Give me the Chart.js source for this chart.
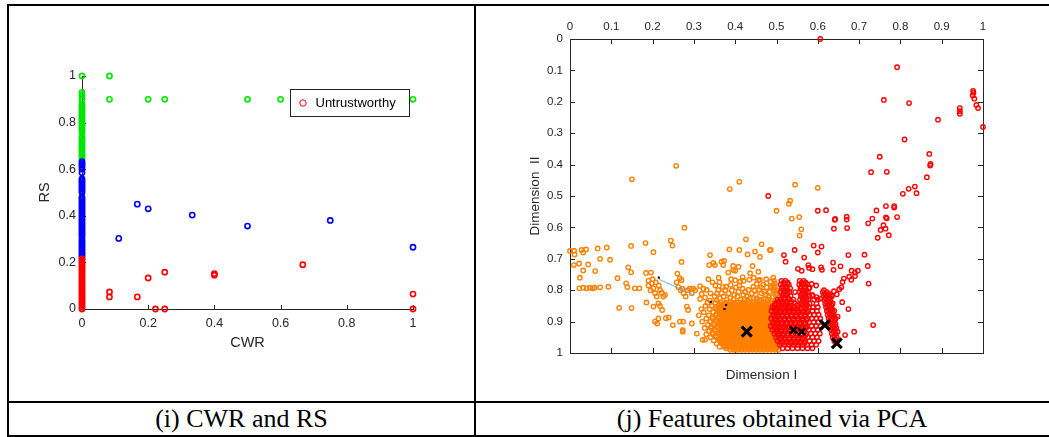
<!DOCTYPE html>
<html>
<head>
<meta charset="utf-8">
<script src="https://cdn.jsdelivr.net/npm/chart.js@4.4.1/dist/chart.umd.min.js"></script>
<style>
  body { margin: 0; background: #fff; }
  #sheet { position: relative; width: 1049px; height: 437px; overflow: hidden; background: #fff; }
  .rule { position: absolute; background: #000; }
  .cell { position: absolute; }
  .cell canvas { display: block; }
  .caption { position: absolute; top: 403px; height: 32px; line-height: 32px; text-align: center;
             font-family: 'Liberation Serif', 'Times New Roman', serif; font-size: 26px; color: #000; white-space: nowrap; }
</style>
</head>
<body>
<div id="sheet">
  <div class="rule" style="left:7px;top:4px;width:1042px;height:2px"></div>
  <div class="rule" style="left:7px;top:401px;width:1042px;height:2px"></div>
  <div class="rule" style="left:7px;top:435px;width:1042px;height:2px"></div>
  <div class="rule" style="left:7px;top:4px;width:2px;height:433px"></div>
  <div class="rule" style="left:474px;top:4px;width:2px;height:433px"></div>
  <div class="cell" style="left:9px;top:6px"><canvas id="cwrChart" width="465" height="395"></canvas></div>
  <div class="cell" style="left:476px;top:6px"><canvas id="pcaChart" width="573" height="395"></canvas></div>
  <div class="caption" style="left:9px;width:465px">(i) CWR and RS</div>
  <div class="caption" style="left:476px;width:592px">(j) Features obtained via PCA</div>
</div>
<script>
// ---------- (i) CWR against RS ----------
const cwrTickValues = [0, 0.2, 0.4, 0.6, 0.8, 1];
const rsTickValues = [0, 0.2, 0.4, 0.6, 0.8, 1];

// RS values of accounts whose CWR is 0, by class
const rsRedAtZero = [0, 0.008, 0.016, 0.024, 0.03, 0.038, 0.045, 0.052, 0.06, 0.068, 0.075, 0.083, 0.09, 0.098,
  0.105, 0.113, 0.12, 0.128, 0.135, 0.143, 0.15, 0.158, 0.165, 0.172, 0.18, 0.187, 0.195, 0.202, 0.21, 0.215];
const rsBlueAtZero = [0.222, 0.23, 0.238, 0.245, 0.253, 0.26, 0.268, 0.275, 0.283, 0.29, 0.298, 0.31, 0.318, 0.325,
  0.333, 0.34, 0.348, 0.355, 0.363, 0.37, 0.378, 0.385, 0.393, 0.4, 0.408, 0.415, 0.423, 0.43, 0.438, 0.445, 0.453,
  0.46, 0.468, 0.475, 0.48, 0.5, 0.507, 0.515, 0.522, 0.53, 0.537, 0.545, 0.552, 0.558, 0.585, 0.6, 0.61, 0.618, 0.625, 0.632];
const rsGreenAtZero = [0.642, 0.65, 0.658, 0.665, 0.673, 0.68, 0.688, 0.695, 0.703, 0.71, 0.718, 0.725, 0.733, 0.74,
  0.76, 0.768, 0.775, 0.783, 0.79, 0.798, 0.805, 0.813, 0.82, 0.828, 0.835, 0.843, 0.85, 0.858, 0.865, 0.873, 0.88,
  0.9, 0.91, 0.92, 0.93, 1.0];

// [CWR, RS] pairs away from CWR = 0
const untrustworthyPairs = [[0.083, 0.073], [0.083, 0.052], [0.167, 0.052], [0.2, 0.133], [0.25, 0.158],
  [0.222, 0], [0.25, 0], [0.4, 0.152], [0.4, 0.145], [0.667, 0.19], [1, 0.064], [1, 0]];
const bluePairs = [[0.167, 0.45], [0.2, 0.43], [0.111, 0.303], [0.333, 0.403], [0.5, 0.356], [0.75, 0.38], [1, 0.265]];
const greenPairs = [[0.083, 1.0], [0.083, 0.9], [0.2, 0.9], [0.25, 0.9], [0.5, 0.9], [0.6, 0.9], [1, 0.9]];

// ---------- (j) PCA features ----------
const dimTickValues = [0, 0.1, 0.2, 0.3, 0.4, 0.5, 0.6, 0.7, 0.8, 0.9, 1];

const orangeScatter = [
  [0.15, 0.447], [0.257, 0.404], [0.387, 0.478], [0.41, 0.455], [0.277, 0.601],
  [0.0, 0.675], [0.01, 0.674], [0.011, 0.686], [0.028, 0.672], [0.032, 0.68], [0.039, 0.67],
  [0.0095, 0.72], [0.022, 0.715], [0.032, 0.737], [0.044, 0.718], [0.024, 0.76],
  [0.0226, 0.794], [0.032, 0.792], [0.04, 0.794], [0.048, 0.792], [0.055, 0.794], [0.06, 0.792], [0.073, 0.791], [0.093, 0.789],
  [0.067, 0.667], [0.089, 0.664], [0.073, 0.70], [0.097, 0.703], [0.061, 0.739],
  [0.115, 0.762], [0.136, 0.778], [0.139, 0.79], [0.119, 0.856], [0.149, 0.857], [0.148, 0.659], [0.183, 0.65],
  [0.202, 0.679], [0.141, 0.727], [0.148, 0.743], [0.157, 0.794], [0.168, 0.794], [0.185, 0.839], [0.184, 0.745],
  [0.19, 0.77], [0.196, 0.744],
  [0.198, 0.778], [0.202, 0.794], [0.206, 0.81], [0.21, 0.82], [0.218, 0.799], [0.226, 0.82], [0.214, 0.842],
  [0.19, 0.785], [0.195, 0.8], [0.2, 0.765], [0.208, 0.775], [0.215, 0.785], [0.222, 0.808], [0.23, 0.815],
  [0.202, 0.852], [0.218, 0.85], [0.206, 0.9], [0.214, 0.89], [0.211, 0.906], [0.232, 0.889], [0.239, 0.887],
  [0.223, 0.863], [0.244, 0.642], [0.248, 0.658], [0.27, 0.71], [0.249, 0.911],
  [0.26, 0.747], [0.266, 0.762], [0.27, 0.768], [0.258, 0.775], [0.262, 0.79], [0.268, 0.8], [0.275, 0.81],
  [0.28, 0.82], [0.272, 0.795], [0.285, 0.8], [0.29, 0.795], [0.298, 0.795], [0.303, 0.8], [0.295, 0.81],
  [0.266, 0.9], [0.274, 0.9], [0.273, 0.927], [0.273, 0.932], [0.283, 0.852], [0.286, 0.863], [0.295, 0.906],
  [0.307, 0.938], [0.321, 0.958], [0.327, 0.958],
  [0.339, 0.688], [0.337, 0.72], [0.351, 0.72], [0.347, 0.713], [0.367, 0.709], [0.371, 0.72], [0.373, 0.707],
  [0.386, 0.67], [0.383, 0.744], [0.395, 0.736], [0.395, 0.723], [0.4, 0.738], [0.408, 0.725], [0.41, 0.672],
  [0.426, 0.638], [0.43, 0.686], [0.448, 0.677], [0.464, 0.654], [0.46, 0.694], [0.486, 0.672], [0.442, 0.723],
  [0.436, 0.746], [0.434, 0.767], [0.456, 0.741], [0.46, 0.767], [0.476, 0.778], [0.496, 0.778], [0.492, 0.8],
  [0.48, 0.831], [0.464, 0.831], [0.4, 0.768], [0.412, 0.773], [0.418, 0.759], [0.432, 0.799], [0.444, 0.789],
  [0.452, 0.78], [0.456, 0.768], [0.468, 0.783], [0.476, 0.791], [0.486, 0.773], [0.496, 0.791],
  [0.315, 0.787], [0.331, 0.799], [0.359, 0.799], [0.367, 0.81], [0.378, 0.789], [0.389, 0.783], [0.402, 0.791],
  [0.408, 0.805], [0.42, 0.815], [0.436, 0.826], [0.452, 0.826], [0.464, 0.81], [0.48, 0.821], [0.492, 0.821],
  [0.363, 0.826], [0.355, 0.831], [0.339, 0.833], [0.323, 0.795], [0.319, 0.812], [0.327, 0.823], [0.315, 0.828],
  [0.6, 0.474], [0.545, 0.464], [0.533, 0.515], [0.53, 0.525], [0.5, 0.547], [0.555, 0.567], [0.537, 0.572],
  [0.56, 0.606], [0.556, 0.626], [0.484, 0.672], [0.492, 0.785], [0.496, 0.8], [0.498, 0.815], [0.5, 0.828],
  [0.494, 0.77], [0.502, 0.81],
  [0.335, 0.765], [0.345, 0.775], [0.352, 0.785], [0.362, 0.775], [0.37, 0.79], [0.376, 0.8], [0.384, 0.81],
  [0.392, 0.8], [0.398, 0.815], [0.405, 0.82], [0.41, 0.785], [0.418, 0.795], [0.424, 0.805], [0.428, 0.82],
  [0.44, 0.81], [0.446, 0.8], [0.45, 0.815], [0.458, 0.798], [0.462, 0.79], [0.47, 0.805], [0.474, 0.815],
  [0.484, 0.805], [0.488, 0.79], [0.5, 0.8], [0.34, 0.81], [0.35, 0.82], [0.356, 0.81], [0.372, 0.82],
  [0.38, 0.83], [0.388, 0.825], [0.396, 0.83], [0.414, 0.83], [0.422, 0.828], [0.43, 0.832], [0.444, 0.825],
  [0.458, 0.83], [0.47, 0.828], [0.486, 0.832], [0.36, 0.76], [0.39, 0.765], [0.42, 0.77], [0.445, 0.76],
  [0.475, 0.765], [0.492, 0.76]
];

// dense orange band, one list of Dimension I values per Dimension II row
const orangeRowY = [0.84, 0.85, 0.86, 0.87, 0.88, 0.89, 0.9, 0.91, 0.92, 0.93, 0.94, 0.95, 0.96, 0.97, 0.98, 0.99,
  0.845, 0.855, 0.865, 0.875, 0.885, 0.895, 0.905, 0.915, 0.925, 0.935, 0.945, 0.955, 0.965, 0.975, 0.985];
const orangeRowX = [
  [0.333, 0.352, 0.366, 0.378, 0.387, 0.397, 0.405, 0.416, 0.424, 0.433, 0.445, 0.452, 0.463, 0.472, 0.483, 0.493],
  [0.328, 0.344, 0.36, 0.37, 0.379, 0.388, 0.396, 0.404, 0.412, 0.42, 0.428, 0.437, 0.445, 0.453, 0.461, 0.469, 0.477, 0.486, 0.495],
  [0.318, 0.338, 0.356, 0.366, 0.374, 0.382, 0.39, 0.398, 0.406, 0.414, 0.422, 0.43, 0.438, 0.446, 0.454, 0.462, 0.47, 0.478, 0.486, 0.494, 0.502],
  [0.324, 0.347, 0.362, 0.37, 0.378, 0.386, 0.394, 0.402, 0.41, 0.418, 0.426, 0.434, 0.442, 0.45, 0.458, 0.466, 0.474, 0.482, 0.49, 0.498],
  [0.312, 0.336, 0.352, 0.366, 0.374, 0.382, 0.39, 0.398, 0.406, 0.414, 0.422, 0.43, 0.438, 0.446, 0.454, 0.462, 0.47, 0.478, 0.486, 0.494, 0.503],
  [0.33, 0.345, 0.36, 0.369, 0.377, 0.385, 0.393, 0.401, 0.409, 0.417, 0.425, 0.433, 0.441, 0.449, 0.457, 0.465, 0.473, 0.481, 0.489, 0.497],
  [0.32, 0.34, 0.355, 0.366, 0.374, 0.382, 0.39, 0.398, 0.406, 0.414, 0.422, 0.43, 0.438, 0.446, 0.454, 0.462, 0.47, 0.478, 0.486, 0.494, 0.502],
  [0.334, 0.349, 0.362, 0.37, 0.378, 0.386, 0.394, 0.402, 0.41, 0.418, 0.426, 0.434, 0.442, 0.45, 0.458, 0.466, 0.474, 0.482, 0.49, 0.498],
  [0.326, 0.342, 0.358, 0.367, 0.375, 0.383, 0.391, 0.399, 0.407, 0.415, 0.423, 0.431, 0.439, 0.447, 0.455, 0.463, 0.471, 0.479, 0.487, 0.495, 0.503],
  [0.337, 0.352, 0.364, 0.372, 0.38, 0.388, 0.396, 0.404, 0.412, 0.42, 0.428, 0.436, 0.444, 0.452, 0.46, 0.468, 0.476, 0.484, 0.492, 0.5],
  [0.33, 0.346, 0.36, 0.369, 0.377, 0.385, 0.393, 0.401, 0.409, 0.417, 0.425, 0.433, 0.441, 0.449, 0.457, 0.465, 0.473, 0.481, 0.489, 0.497],
  [0.34, 0.355, 0.366, 0.374, 0.382, 0.39, 0.398, 0.406, 0.414, 0.422, 0.43, 0.438, 0.446, 0.454, 0.462, 0.47, 0.478, 0.486, 0.494, 0.502],
  [0.348, 0.362, 0.371, 0.379, 0.387, 0.395, 0.403, 0.411, 0.419, 0.427, 0.435, 0.443, 0.451, 0.459, 0.467, 0.475, 0.483, 0.491, 0.499],
  [0.355, 0.368, 0.376, 0.384, 0.392, 0.4, 0.408, 0.416, 0.424, 0.432, 0.44, 0.448, 0.456, 0.464, 0.472, 0.48, 0.488, 0.496, 0.504],
  [0.362, 0.374, 0.383, 0.391, 0.399, 0.407, 0.415, 0.423, 0.431, 0.439, 0.447, 0.455, 0.463, 0.471, 0.479, 0.487, 0.495, 0.503],
  [0.388, 0.397, 0.406, 0.415, 0.424, 0.433, 0.442, 0.451, 0.46, 0.469, 0.478, 0.487, 0.496, 0.505],
  [0.362, 0.371, 0.383, 0.392, 0.401, 0.41, 0.42, 0.429, 0.441, 0.449, 0.458, 0.467, 0.476, 0.488, 0.497],
  [0.352, 0.364, 0.374, 0.384, 0.392, 0.402, 0.41, 0.418, 0.426, 0.434, 0.442, 0.45, 0.458, 0.466, 0.474, 0.482, 0.49, 0.498],
  [0.36, 0.37, 0.378, 0.386, 0.394, 0.402, 0.41, 0.418, 0.426, 0.434, 0.442, 0.45, 0.458, 0.466, 0.474, 0.482, 0.49, 0.498],
  [0.355, 0.366, 0.374, 0.382, 0.39, 0.398, 0.406, 0.414, 0.422, 0.43, 0.438, 0.446, 0.454, 0.462, 0.47, 0.478, 0.486, 0.494, 0.502],
  [0.345, 0.362, 0.37, 0.378, 0.386, 0.394, 0.402, 0.41, 0.418, 0.426, 0.434, 0.442, 0.45, 0.458, 0.466, 0.474, 0.482, 0.49, 0.498],
  [0.352, 0.364, 0.373, 0.381, 0.389, 0.397, 0.405, 0.413, 0.421, 0.429, 0.437, 0.445, 0.453, 0.461, 0.469, 0.477, 0.485, 0.493, 0.501],
  [0.348, 0.362, 0.37, 0.378, 0.386, 0.394, 0.402, 0.41, 0.418, 0.426, 0.434, 0.442, 0.45, 0.458, 0.466, 0.474, 0.482, 0.49, 0.498],
  [0.342, 0.358, 0.366, 0.374, 0.382, 0.39, 0.398, 0.406, 0.414, 0.422, 0.43, 0.438, 0.446, 0.454, 0.462, 0.47, 0.478, 0.486, 0.494, 0.502],
  [0.35, 0.363, 0.371, 0.379, 0.387, 0.395, 0.403, 0.411, 0.419, 0.427, 0.435, 0.443, 0.451, 0.459, 0.467, 0.475, 0.483, 0.491, 0.499],
  [0.345, 0.36, 0.368, 0.376, 0.384, 0.392, 0.4, 0.408, 0.416, 0.424, 0.432, 0.44, 0.448, 0.456, 0.464, 0.472, 0.48, 0.488, 0.496, 0.504],
  [0.353, 0.365, 0.373, 0.381, 0.389, 0.397, 0.405, 0.413, 0.421, 0.429, 0.437, 0.445, 0.453, 0.461, 0.469, 0.477, 0.485, 0.493, 0.501],
  [0.36, 0.37, 0.378, 0.386, 0.394, 0.402, 0.41, 0.418, 0.426, 0.434, 0.442, 0.45, 0.458, 0.466, 0.474, 0.482, 0.49, 0.498],
  [0.366, 0.375, 0.383, 0.391, 0.399, 0.407, 0.415, 0.423, 0.431, 0.439, 0.447, 0.455, 0.463, 0.471, 0.479, 0.487, 0.495, 0.503],
  [0.372, 0.38, 0.388, 0.396, 0.404, 0.412, 0.42, 0.428, 0.436, 0.444, 0.452, 0.46, 0.468, 0.476, 0.484, 0.492, 0.5],
  [0.378, 0.392, 0.401, 0.41, 0.419, 0.428, 0.437, 0.446, 0.455, 0.464, 0.473, 0.482, 0.491, 0.5]
];

const redScatter = [
  [0.606, 0.0], [0.792, 0.09], [0.76, 0.194], [0.821, 0.204], [0.891, 0.257],
  [0.976, 0.165], [0.977, 0.171], [0.975, 0.18], [0.979, 0.19], [0.984, 0.21], [0.988, 0.22], [1.0, 0.28],
  [0.944, 0.22], [0.944, 0.23], [0.944, 0.238],
  [0.81, 0.32], [0.87, 0.366], [0.873, 0.398], [0.872, 0.403], [0.864, 0.44],
  [0.75, 0.375], [0.729, 0.424], [0.767, 0.423],
  [0.835, 0.47], [0.82, 0.477], [0.839, 0.491], [0.806, 0.493], [0.48, 0.50],
  [0.60, 0.547], [0.62, 0.545], [0.742, 0.546], [0.765, 0.532], [0.785, 0.532], [0.785, 0.537],
  [0.792, 0.567], [0.732, 0.572], [0.765, 0.568], [0.767, 0.571], [0.67, 0.566], [0.67, 0.575], [0.642, 0.573], [0.722, 0.587],
  [0.641, 0.576], [0.639, 0.604], [0.671, 0.602],
  [0.759, 0.593], [0.752, 0.608], [0.764, 0.604], [0.772, 0.625], [0.745, 0.633],
  [0.59, 0.658], [0.609, 0.661], [0.60, 0.68],
  [0.544, 0.672], [0.518, 0.688], [0.522, 0.709], [0.567, 0.696],
  [0.552, 0.732], [0.561, 0.738], [0.577, 0.72], [0.579, 0.729], [0.587, 0.733],
  [0.608, 0.727], [0.61, 0.735], [0.637, 0.712], [0.638, 0.735], [0.655, 0.724],
  [0.674, 0.688], [0.713, 0.687], [0.721, 0.723], [0.723, 0.779],
  [0.697, 0.738], [0.69, 0.744], [0.682, 0.738], [0.69, 0.755], [0.681, 0.767], [0.676, 0.757], [0.663, 0.763],
  [0.66, 0.774], [0.657, 0.791], [0.652, 0.797], [0.646, 0.813], [0.639, 0.803], [0.634, 0.819],
  [0.659, 0.838], [0.674, 0.86], [0.648, 0.884], [0.734, 0.911], [0.688, 0.932], [0.666, 0.943], [0.606, 0.827],
  [0.586, 0.815], [0.597, 0.822], [0.585, 0.78], [0.596, 0.785], [0.58, 0.792]
];

// dense red band, one list of Dimension I values per Dimension II row
const redRowY = [0.77, 0.782, 0.794, 0.806, 0.818, 0.83, 0.842, 0.854, 0.866, 0.878, 0.89, 0.902, 0.914, 0.926,
  0.938, 0.95, 0.962, 0.974, 0.985,
  0.776, 0.788, 0.8, 0.812, 0.824, 0.836, 0.848, 0.86, 0.872, 0.884, 0.896, 0.908, 0.92, 0.932, 0.944, 0.956, 0.968];
const redRowX = [
  [0.512, 0.522, 0.556, 0.566],
  [0.51, 0.52, 0.53, 0.555, 0.565, 0.575],
  [0.513, 0.523, 0.533, 0.558, 0.568, 0.578],
  [0.511, 0.521, 0.531, 0.545, 0.556, 0.566, 0.576, 0.612, 0.622],
  [0.514, 0.524, 0.534, 0.559, 0.569, 0.579, 0.588, 0.614, 0.624, 0.632],
  [0.503, 0.51, 0.52, 0.53, 0.541, 0.557, 0.567, 0.577, 0.591, 0.6, 0.616, 0.626],
  [0.498, 0.513, 0.523, 0.533, 0.545, 0.56, 0.57, 0.58, 0.597, 0.618, 0.628, 0.636],
  [0.49, 0.502, 0.512, 0.522, 0.532, 0.544, 0.558, 0.568, 0.578, 0.588, 0.6, 0.62, 0.63],
  [0.488, 0.499, 0.51, 0.521, 0.532, 0.543, 0.554, 0.565, 0.576, 0.587, 0.598, 0.622, 0.632, 0.64],
  [0.492, 0.503, 0.514, 0.525, 0.536, 0.547, 0.558, 0.569, 0.58, 0.591, 0.602, 0.624, 0.634],
  [0.487, 0.498, 0.509, 0.52, 0.531, 0.542, 0.553, 0.564, 0.575, 0.586, 0.597, 0.606, 0.626, 0.636, 0.643],
  [0.491, 0.502, 0.513, 0.524, 0.535, 0.546, 0.557, 0.568, 0.579, 0.59, 0.601, 0.628, 0.638],
  [0.486, 0.497, 0.508, 0.519, 0.53, 0.541, 0.552, 0.563, 0.574, 0.585, 0.596, 0.607, 0.63, 0.64],
  [0.49, 0.501, 0.512, 0.523, 0.534, 0.545, 0.556, 0.567, 0.578, 0.589, 0.6, 0.632, 0.642],
  [0.495, 0.506, 0.517, 0.528, 0.539, 0.55, 0.561, 0.572, 0.583, 0.594, 0.605, 0.634, 0.644],
  [0.499, 0.51, 0.521, 0.532, 0.543, 0.554, 0.565, 0.576, 0.587, 0.598, 0.636, 0.646],
  [0.503, 0.514, 0.525, 0.536, 0.547, 0.558, 0.569, 0.58, 0.591, 0.602, 0.64, 0.648],
  [0.508, 0.519, 0.53, 0.541, 0.552, 0.563, 0.574, 0.585, 0.596],
  [0.515, 0.527, 0.539, 0.551, 0.563, 0.575, 0.587],
  [0.517, 0.527, 0.561, 0.571],
  [0.515, 0.525, 0.56, 0.57],
  [0.517, 0.527, 0.562, 0.572, 0.615],
  [0.516, 0.526, 0.561, 0.571, 0.617, 0.627],
  [0.518, 0.528, 0.562, 0.572, 0.619, 0.629],
  [0.505, 0.516, 0.526, 0.536, 0.563, 0.573, 0.621, 0.631],
  [0.495, 0.507, 0.518, 0.528, 0.55, 0.564, 0.574, 0.623, 0.633],
  [0.494, 0.505, 0.516, 0.527, 0.538, 0.549, 0.56, 0.571, 0.625, 0.635],
  [0.497, 0.508, 0.519, 0.53, 0.541, 0.552, 0.563, 0.574, 0.627, 0.637],
  [0.493, 0.504, 0.515, 0.526, 0.537, 0.548, 0.559, 0.57, 0.629, 0.639],
  [0.496, 0.507, 0.518, 0.529, 0.54, 0.551, 0.562, 0.573, 0.631, 0.641],
  [0.492, 0.503, 0.514, 0.525, 0.536, 0.547, 0.558, 0.569, 0.633, 0.643],
  [0.495, 0.506, 0.517, 0.528, 0.539, 0.55, 0.561, 0.572, 0.635, 0.645],
  [0.5, 0.511, 0.522, 0.533, 0.544, 0.555, 0.566, 0.638, 0.648],
  [0.504, 0.515, 0.526, 0.537, 0.548, 0.559, 0.57, 0.64],
  [0.508, 0.519, 0.53, 0.541, 0.552, 0.563, 0.643],
  [0.513, 0.524, 0.535, 0.546, 0.557, 0.568]
];

const centroidsLarge = [[0.428, 0.932], [0.646, 0.969], [0.617, 0.911]];
const centroidsSmall = [[0.561, 0.932], [0.541, 0.927]];
const centroidTrace = [[0.215, 0.765], [0.30, 0.815]];
const traceDots = [[0.215, 0.76], [0.341, 0.837], [0.378, 0.847], [0.374, 0.86]];

// ---------- shared styling ----------
const AXIS_FONT = "'Liberation Sans', Arial, Helvetica, sans-serif";
const INK = '#262626';

const toXY = pairs => pairs.map(([x, y]) => ({ x, y }));
const column = (xValue, ys) => ys.map(y => ({ x: xValue, y }));
const fromRows = (rowY, rowX) => rowY.flatMap((y, i) => rowX[i].map(x => ({ x, y })));
const fixedTicks = values => scale => { scale.ticks = values.map(v => ({ value: v })); };
const plainNumber = v => String(Math.round(v * 100) / 100);

// tick marks drawn on the inside of the axes box
const inwardTicks = {
  id: 'inwardTicks',
  beforeDatasetsDraw(chart, args, o) {
    const { ctx, chartArea: a } = chart;
    const xs = chart.scales.x, ys = chart.scales.y;
    ctx.save();
    ctx.strokeStyle = INK;
    ctx.lineWidth = 1;
    ctx.beginPath();
    xs.ticks.forEach(t => {
      const px = Math.round(xs.getPixelForValue(t.value)) + 0.5;
      if (o.bottom) { ctx.moveTo(px, a.bottom); ctx.lineTo(px, a.bottom - o.len); }
      if (o.top) { ctx.moveTo(px, a.top); ctx.lineTo(px, a.top + o.len); }
    });
    ys.ticks.forEach(t => {
      const py = Math.round(ys.getPixelForValue(t.value)) + 0.5;
      if (o.left) { ctx.moveTo(a.left, py); ctx.lineTo(a.left + o.len, py); }
      if (o.right) { ctx.moveTo(a.right, py); ctx.lineTo(a.right - o.len, py); }
    });
    ctx.stroke();
    ctx.restore();
  }
};

// boxed legend inside the axes, listing the first dataset only
const boxedLegend = {
  id: 'boxedLegend',
  afterDatasetsDraw(chart, args, o) {
    const { ctx, chartArea: a } = chart;
    const ds = chart.data.datasets[0];
    const x = a.right - o.right - o.width, y = a.top + o.top;
    ctx.save();
    ctx.fillStyle = '#fff';
    ctx.fillRect(x, y, o.width, o.height);
    ctx.strokeStyle = INK;
    ctx.lineWidth = 1;
    ctx.strokeRect(x + 0.5, y + 0.5, o.width, o.height);
    ctx.beginPath();
    ctx.arc(x + 13, y + o.height / 2 + 0.5, 3.2, 0, Math.PI * 2);
    ctx.strokeStyle = ds.borderColor;
    ctx.stroke();
    ctx.fillStyle = '#000';
    ctx.font = `13px ${AXIS_FONT}`;
    ctx.textBaseline = 'middle';
    ctx.fillText(ds.label, x + 25.5, y + o.height / 2 + 1);
    ctx.restore();
  }
};

function tickFont(size) { return { family: AXIS_FONT, size }; }
const noGrid = { display: false, drawTicks: false };

// ---------- chart (i) ----------
const ringStyle = color => ({
  borderColor: color, backgroundColor: 'rgba(0,0,0,0)', pointRadius: 2.6, pointBorderWidth: 1.6,
  pointStyle: 'circle', clip: false
});

new Chart(document.getElementById('cwrChart'), {
  type: 'scatter',
  data: {
    datasets: [
      { label: 'Untrustworthy', data: [...column(0, rsRedAtZero), ...toXY(untrustworthyPairs)], ...ringStyle('#ff0000') },
      { label: 'Medium', data: [...column(0, rsBlueAtZero), ...toXY(bluePairs)], ...ringStyle('#0000ff') },
      { label: 'Trustworthy', data: [...column(0, rsGreenAtZero), ...toXY(greenPairs)], ...ringStyle('#00e600') }
    ]
  },
  options: {
    responsive: false, animation: false, events: [],
    layout: { autoPadding: false, padding: { left: 0, right: 61, top: 70, bottom: 0 } },
    plugins: {
      legend: { display: false }, tooltip: { enabled: false },
      inwardTicks: { len: 4, left: true, bottom: true },
      boxedLegend: { width: 119, height: 27, right: 4, top: 13 }
    },
    scales: {
      x: {
        type: 'linear', position: 'bottom', min: 0, max: 1,
        afterBuildTicks: fixedTicks(cwrTickValues),
        afterFit: s => { s.height = 92; },
        grid: noGrid,
        border: { display: true, color: INK, width: 1 },
        ticks: { color: INK, font: tickFont(12.5), padding: 7.5, autoSkip: false, maxRotation: 0, callback: plainNumber },
        title: { display: true, text: 'CWR', color: INK, font: tickFont(14.5), padding: { top: 0, bottom: 49 } }
      },
      y: {
        type: 'linear', position: 'left', min: 0, max: 1,
        afterBuildTicks: fixedTicks(rsTickValues),
        afterFit: s => { s.width = 73; },
        grid: noGrid,
        border: { display: true, color: INK, width: 1 },
        ticks: { color: INK, font: tickFont(12.5), padding: 6, autoSkip: false, callback: plainNumber },
        title: { display: true, text: 'RS', color: INK, font: tickFont(14.5), padding: { top: 27, bottom: 0 } }
      }
    }
  },
  plugins: [inwardTicks, boxedLegend]
});

// ---------- chart (j) ----------
const smallRing = color => ({
  borderColor: color, backgroundColor: 'rgba(0,0,0,0)', pointRadius: 2.2, pointBorderWidth: 1.4,
  pointStyle: 'circle', clip: false
});

new Chart(document.getElementById('pcaChart'), {
  type: 'scatter',
  data: {
    datasets: [
      { label: 'Centroids', data: toXY(centroidsLarge), order: 0, clip: false, pointStyle: 'crossRot',
        pointRadius: 7, pointBorderWidth: 3.2, borderColor: '#000', backgroundColor: '#000' },
      { label: 'Centroid steps', data: toXY(centroidsSmall), order: 1, clip: false, pointStyle: 'crossRot',
        pointRadius: 5, pointBorderWidth: 2.6, borderColor: '#000', backgroundColor: '#000' },
      { label: 'Trace', data: toXY(centroidTrace), order: 2, showLine: true, pointRadius: 0,
        borderColor: '#5ab8f0', borderWidth: 1 },
      { label: 'Trace points', data: toXY(traceDots), order: 3, pointStyle: 'rect', pointRadius: 1.5,
        pointBorderWidth: 0, backgroundColor: '#000', borderColor: '#000' },
      { label: 'Cluster 2', data: [...toXY(redScatter), ...fromRows(redRowY, redRowX)], order: 4, ...smallRing('#ff0000') },
      { label: 'Cluster 1', data: [...toXY(orangeScatter), ...fromRows(orangeRowY, orangeRowX)], order: 5, ...smallRing('#ff8000') }
    ]
  },
  options: {
    responsive: false, animation: false, events: [],
    layout: { autoPadding: false, padding: { left: 0, right: 66, top: 0, bottom: 0 } },
    plugins: {
      legend: { display: false }, tooltip: { enabled: false },
      inwardTicks: { len: 5, left: true, right: true, top: true, bottom: true }
    },
    scales: {
      x: {
        type: 'linear', position: 'top', min: 0, max: 1,
        afterBuildTicks: fixedTicks(dimTickValues),
        afterFit: s => { s.height = 33; },
        grid: noGrid,
        border: { display: true, color: INK, width: 1 },
        ticks: { color: INK, font: tickFont(11.5), padding: 5, autoSkip: false, maxRotation: 0, callback: plainNumber }
      },
      xBottom: {
        type: 'linear', position: 'bottom', min: 0, max: 1,
        afterFit: s => { s.height = 48; },
        grid: noGrid,
        border: { display: true, color: INK, width: 1 },
        ticks: { display: false },
        // trailing spaces keep the label slightly left of the axis centre
        title: { display: true, text: 'Dimension I' + '\u00a0'.repeat(8), color: INK, font: tickFont(13.5),
                 padding: { top: 0, bottom: 18 } }
      },
      y: {
        type: 'linear', position: 'left', min: 0, max: 1, reverse: true,
        afterBuildTicks: fixedTicks(dimTickValues),
        afterFit: s => { s.width = 94; },
        grid: noGrid,
        border: { display: true, color: INK, width: 1 },
        ticks: { color: INK, font: tickFont(11.5), padding: 7, autoSkip: false, callback: plainNumber },
        title: { display: true, text: 'Dimension  II', color: INK, font: tickFont(13.5), padding: { top: 51, bottom: 0 } }
      },
      yRight: {
        type: 'linear', position: 'right', min: 0, max: 1, reverse: true,
        afterFit: s => { s.width = 0; },
        grid: noGrid,
        border: { display: true, color: INK, width: 1 },
        ticks: { display: false }
      }
    }
  },
  plugins: [inwardTicks]
});
</script>
</body>
</html>
